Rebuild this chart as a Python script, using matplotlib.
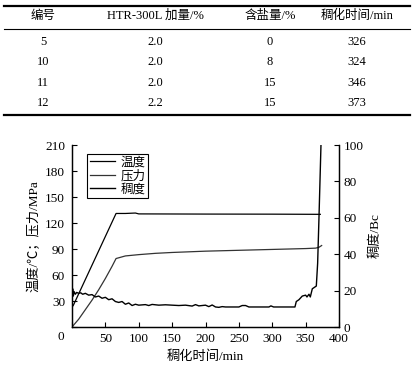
import matplotlib
matplotlib.use("Agg")
import matplotlib.pyplot as plt
from matplotlib.lines import Line2D

plt.rcParams['font.family'] = ['Liberation Serif', 'Noto Sans CJK SC']
plt.rcParams['axes.unicode_minus'] = False

# table data
tab_header = ['编号', 'HTR-300L 加量/%', '含盐量/%', '稠化时间/min']
tab_no = ['5', '10', '11', '12']
tab_htr = ['2.0', '2.0', '2.0', '2.2']
tab_salt = ['0', '8', '15', '15']
tab_time = ['326', '324', '346', '373']

# curve data
temp_t = [0, 2, 66, 80, 95, 100, 200, 300, 372]
temp_v = [23, 25, 131, 131, 131.5, 130.5, 130.3, 130.2, 130]

pres_t = [0, 10, 20, 30, 40, 50, 60, 66, 80, 100, 125, 150, 200, 250, 300, 350, 365, 370, 374]
pres_v = [0, 9, 20, 31, 43, 56, 70, 79, 82, 83.5, 85, 86, 87.5, 88.5, 89.5, 90.5, 91, 92, 94]

cons_t = [0, 1, 2, 3, 5, 7, 10, 13, 16, 20, 25, 30, 35, 40, 45, 50, 55, 60, 65, 70,
          75, 80, 85, 90, 95, 100, 110, 115, 120, 130, 140, 150, 160, 170, 180, 185,
          190, 200, 205, 210, 215, 220, 225, 230, 240, 250, 255, 260, 265, 280, 295,
          298, 302, 320, 334, 336, 340, 345, 350, 352, 355, 357, 360, 364, 366, 368,
          370, 373]
cons_v = [16, 21, 17, 19.5, 18, 19, 18.5, 18.8, 18, 18.5, 17.5, 17.8, 16.5, 17, 15.8,
          16.3, 15, 15.5, 14, 13.5, 14, 12.5, 13.2, 11.8, 12.5, 12, 12.3, 11.8, 12.4,
          12, 12.2, 12, 11.8, 12, 11.5, 12.3, 11.6, 12, 11.2, 12.1, 11, 10.8, 11.2,
          11, 11, 11, 11.8, 11.8, 11, 11, 11, 11.6, 11, 11, 11, 14, 15, 17, 17.5,
          16.5, 18, 16.5, 21, 22, 22.5, 35, 60, 100]

fig = plt.figure(figsize=(4.15, 3.71), dpi=100)
W, H = 415, 371

# ---- table ----
col_x = [43, 155, 270, 357]
row_y = [42, 62, 83, 103]
fs = 9
for cx, h in zip(col_x, tab_header):
    fig.text(cx / W, 1 - 16 / H, h, ha='center', va='center', fontsize=fs)
for i, y in enumerate(row_y):
    for cx, col in zip(col_x, [tab_no, tab_htr, tab_salt, tab_time]):
        fig.text(cx / W, 1 - y / H, col[i], ha='center', va='center', fontsize=fs)
for y, lw in [(6, 1.6), (29, 0.8), (115, 1.6)]:
    fig.add_artist(Line2D([4 / W, 410 / W], [1 - y / H, 1 - y / H],
                          color='black', lw=lw, transform=fig.transFigure))

# ---- chart ----
ax = fig.add_axes([72 / W, 1 - 327 / H, (339 - 72) / W, (327 - 145) / H])
ax2 = ax.twinx()

l1, = ax.plot(temp_t, temp_v, color='black', lw=0.9)
l2, = ax.plot(pres_t, pres_v, color='#333333', lw=0.9)
l3, = ax2.plot(cons_t, cons_v, color='black', lw=1.0)

ax.set_xlim(0, 400)
ax.set_ylim(0, 210)
ax2.set_ylim(0, 100)

xt = list(range(0, 401, 50))
ax.set_xticks(xt)
ax.set_xticklabels([''] + [str(v) for v in xt[1:]], fontsize=9.5)
yt = list(range(0, 211, 30))
ax.set_yticks(yt)
ax.set_yticklabels([''] + [str(v) for v in yt[1:]], fontsize=9.5)
ax2.set_yticks(range(0, 101, 20))
ax2.set_yticklabels([str(v) for v in range(0, 101, 20)], fontsize=9.5)
ax.annotate('0', xy=(0, 0), xycoords='data', xytext=(-8, -7.5),
            textcoords='offset points', ha='center', va='center', fontsize=9.5)

ax.tick_params(direction='in', length=3.5, width=0.8)
ax.tick_params(axis='x', pad=4)
ax.tick_params(axis='y', pad=5)
ax2.tick_params(direction='in', length=3.5, width=0.8, pad=3.5)

for a in (ax, ax2):
    a.spines['top'].set_visible(False)
    for s in a.spines.values():
        s.set_linewidth(0.9)

ax.set_xlabel('稠化时间/min', fontsize=9.5, labelpad=4)
ax.set_ylabel('温度/℃；压力/MPa', fontsize=9.5, labelpad=3)
ax2.set_ylabel('稠度/Bc', fontsize=9.5, labelpad=4)

leg = ax.legend([l1, l2, l3], ['温度', '压力', '稠度'], loc='upper left',
                bbox_to_anchor=(87 / W, 1 - 154 / H), bbox_transform=fig.transFigure,
                fontsize=9, fancybox=False, framealpha=1, edgecolor='black',
                handlelength=2.0, handletextpad=0.5, borderpad=0.2,
                labelspacing=0.1, borderaxespad=0)
leg.get_frame().set_linewidth(0.8)

fig.savefig('out.png', dpi=100)
